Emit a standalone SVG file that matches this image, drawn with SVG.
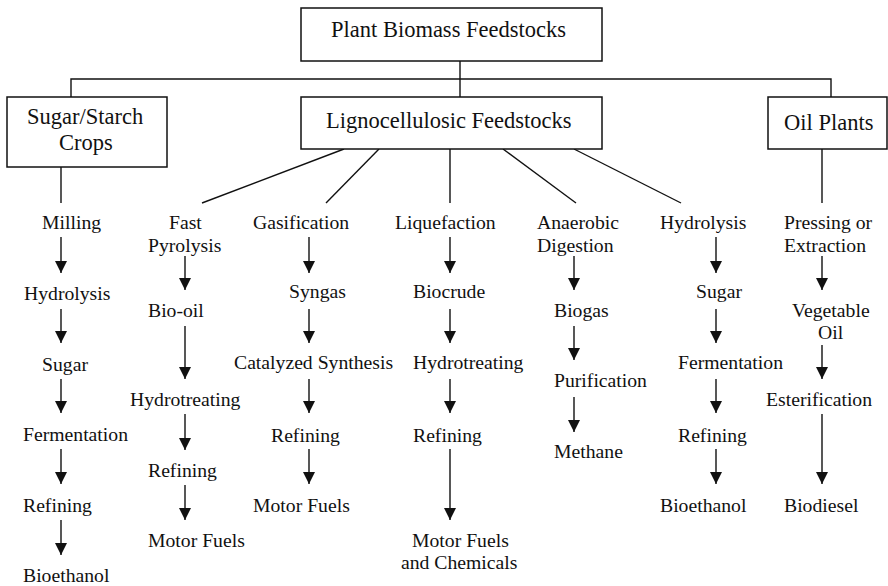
<svg xmlns="http://www.w3.org/2000/svg" width="888" height="586" viewBox="0 0 888 586">
<style>
text{font-family:"Liberation Serif","Times New Roman",serif;fill:#111}
.b{font-size:22.5px}
.l{font-size:19.7px}
.n{fill:#fff;stroke:#111;stroke-width:1.5}
.c line,.c path{stroke:#111;stroke-width:1.4;fill:none}
.a{marker-end:url(#ah)}
</style>
<defs>
<marker id="ah" markerUnits="userSpaceOnUse" markerWidth="12" markerHeight="12" refX="11" refY="5.5" orient="auto" viewBox="0 0 11 11">
<path d="M0,0 L11,5.5 L0,11 z" fill="#111"/>
</marker>
</defs>
<rect width="888" height="586" style="fill:#fff;stroke:none"/>
<g class="c" id="connectors">
<path d="M460,61 V97 M71,97 V79 H831 V97"/>
<line x1="61" y1="167" x2="61" y2="203"/>
<line x1="344" y1="149" x2="202" y2="203"/>
<line x1="379" y1="149" x2="326" y2="203"/>
<line x1="450" y1="149" x2="450" y2="203"/>
<line x1="503" y1="149" x2="576" y2="203"/>
<line x1="574" y1="149" x2="681" y2="203"/>
<line x1="822" y1="149" x2="822" y2="203"/>
<line class="a" x1="61" y1="237" x2="61" y2="273"/>
<line class="a" x1="61" y1="309" x2="61" y2="343"/>
<line class="a" x1="61" y1="379" x2="61" y2="413"/>
<line class="a" x1="61" y1="449" x2="61" y2="484"/>
<line class="a" x1="61" y1="520" x2="61" y2="555"/>
<line class="a" x1="185" y1="256" x2="185" y2="290"/>
<line class="a" x1="185" y1="326" x2="185" y2="379"/>
<line class="a" x1="185" y1="414" x2="185" y2="450"/>
<line class="a" x1="185" y1="485" x2="185" y2="520"/>
<line class="a" x1="309" y1="237" x2="309" y2="273"/>
<line class="a" x1="309" y1="309" x2="309" y2="343"/>
<line class="a" x1="309" y1="379" x2="309" y2="413"/>
<line class="a" x1="309" y1="449" x2="309" y2="484"/>
<line class="a" x1="450" y1="237" x2="450" y2="273"/>
<line class="a" x1="450" y1="309" x2="450" y2="343"/>
<line class="a" x1="450" y1="379" x2="450" y2="413"/>
<line class="a" x1="450" y1="449" x2="450" y2="520"/>
<line class="a" x1="574" y1="256" x2="574" y2="290"/>
<line class="a" x1="574" y1="326" x2="574" y2="360"/>
<line class="a" x1="574" y1="397" x2="574" y2="432"/>
<line class="a" x1="716" y1="237" x2="716" y2="273"/>
<line class="a" x1="716" y1="309" x2="716" y2="343"/>
<line class="a" x1="716" y1="379" x2="716" y2="413"/>
<line class="a" x1="716" y1="449" x2="716" y2="484"/>
<line class="a" x1="822" y1="256" x2="822" y2="290"/>
<line class="a" x1="822" y1="345" x2="822" y2="379"/>
<line class="a" x1="822" y1="414" x2="822" y2="484"/>
</g>
<g id="plant-biomass"><rect class="n" x="301" y="8" width="301" height="53"/><text class="b" x="331" y="37">Plant Biomass Feedstocks</text></g>
<g id="sugar-starch"><rect class="n" x="7" y="97" width="160" height="70"/><text class="b" x="27" y="124">Sugar/Starch</text><text class="b" x="59" y="150">Crops</text></g>
<g id="lignocellulosic"><rect class="n" x="301" y="97" width="301" height="52"/><text class="b" x="326" y="128">Lignocellulosic Feedstocks</text></g>
<g id="oil-plants"><rect class="n" x="768" y="97" width="119" height="52"/><text class="b" x="784" y="130">Oil Plants</text></g>
<g id="col-sugar">
<text class="l" x="42" y="229">Milling</text>
<text class="l" x="24" y="300">Hydrolysis</text>
<text class="l" x="42" y="371">Sugar</text>
<text class="l" x="23" y="441">Fermentation</text>
<text class="l" x="23" y="512">Refining</text>
<text class="l" x="23" y="582">Bioethanol</text>
</g>
<g id="col-pyrolysis">
<text class="l" x="169" y="229">Fast</text>
<text class="l" x="148" y="252">Pyrolysis</text>
<text class="l" x="148" y="317">Bio-oil</text>
<text class="l" x="130" y="406">Hydrotreating</text>
<text class="l" x="148" y="477">Refining</text>
<text class="l" x="148" y="547">Motor Fuels</text>
</g>
<g id="col-gasification">
<text class="l" x="253" y="229">Gasification</text>
<text class="l" x="289" y="298">Syngas</text>
<text class="l" x="234" y="369">Catalyzed Synthesis</text>
<text class="l" x="271" y="442">Refining</text>
<text class="l" x="253" y="512">Motor Fuels</text>
</g>
<g id="col-liquefaction">
<text class="l" x="395" y="229">Liquefaction</text>
<text class="l" x="413" y="298">Biocrude</text>
<text class="l" x="413" y="369">Hydrotreating</text>
<text class="l" x="413" y="442">Refining</text>
<text class="l" x="412" y="547">Motor Fuels</text>
<text class="l" x="401" y="569">and Chemicals</text>
</g>
<g id="col-anaerobic">
<text class="l" x="537" y="229">Anaerobic</text>
<text class="l" x="537" y="252">Digestion</text>
<text class="l" x="554" y="317">Biogas</text>
<text class="l" x="554" y="387">Purification</text>
<text class="l" x="554" y="458">Methane</text>
</g>
<g id="col-hydrolysis">
<text class="l" x="660" y="229">Hydrolysis</text>
<text class="l" x="696" y="298">Sugar</text>
<text class="l" x="678" y="369">Fermentation</text>
<text class="l" x="678" y="442">Refining</text>
<text class="l" x="660" y="512">Bioethanol</text>
</g>
<g id="col-oil">
<text class="l" x="784" y="229">Pressing or</text>
<text class="l" x="784" y="252">Extraction</text>
<text class="l" x="792" y="317">Vegetable</text>
<text class="l" x="818" y="339">Oil</text>
<text class="l" x="766" y="406">Esterification</text>
<text class="l" x="784" y="512">Biodiesel</text>
</g>
</svg>
